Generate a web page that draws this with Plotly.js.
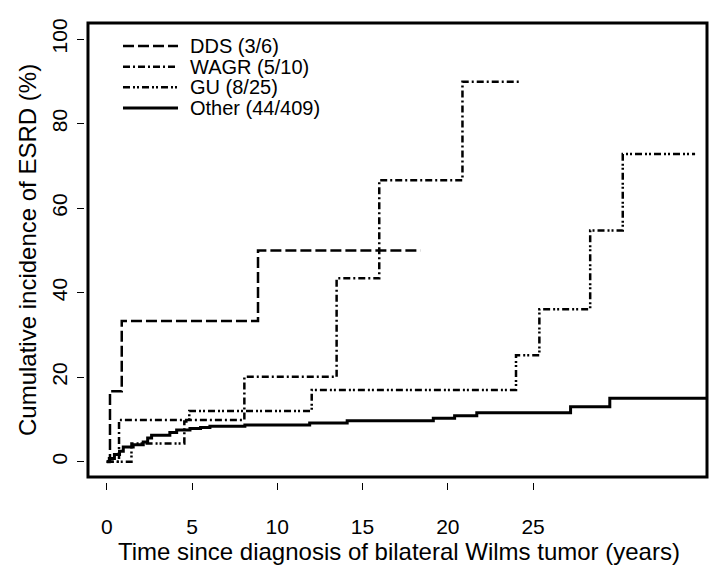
<!DOCTYPE html>
<html>
<head>
<meta charset="utf-8">
<script src="https://cdn.plot.ly/plotly-3.0.1.min.js"></script>
<style>
  body { margin: 0; background: #fff; }
  #chart { width: 722px; height: 580px; }
</style>
</head>
<body>
<div id="chart"></div>
<script>
// step curves (years, % cumulative incidence)
const ddsTime = [0, 0.19, 0.88, 8.87, 18.4];
const ddsInc = [0, 16.7, 33.3, 50, 50];

const wagrTime = [0, 0.72, 8.07, 13.48, 15.98, 20.86, 24.33];
const wagrInc = [0, 9.9, 20.1, 43.4, 66.6, 89.9, 89.9];

const guTime = [0, 1.45, 4.55, 4.84, 12.02, 24.0, 25.37, 28.35, 30.26, 34.5];
const guInc = [0, 4.3, 9.5, 12.0, 17.0, 25.2, 36.1, 54.7, 72.8, 72.8];

const otherTime = [0, 0.15, 0.45, 0.75, 0.97, 1.55, 2.14, 2.4, 2.63, 3.7, 4.1, 4.88, 5.5, 6.05, 8.1, 11.9, 14.1, 19.15, 20.4, 21.7, 27.2, 29.5, 35.2];
const otherInc = [0, 0.8, 1.7, 2.5, 3.5, 4.0, 4.7, 5.6, 6.3, 6.9, 7.5, 7.9, 8.1, 8.4, 8.7, 9.2, 9.7, 10.3, 10.9, 11.6, 13.0, 15.0, 15.0];

const seriesNames = ["DDS (3/6)", "WAGR (5/10)", "GU (8/25)", "Other (44/409)"];
const seriesDash = ["11px,4px", "7px,3px,2px,3px", "7px,3px,2px,2px,2px,3px", "solid"];
const seriesWidth = [2.5, 2.5, 2.5, 3];
const xTicks = [0, 5, 10, 15, 20, 25];
const yTicks = [0, 20, 40, 60, 80, 100];

const font = "Liberation Sans, Arial, sans-serif";

function stepTrace(x, y, i) {
  return {
    x: x, y: y, name: seriesNames[i],
    type: "scatter", mode: "lines",
    line: { shape: "hv", color: "#000", width: seriesWidth[i], dash: seriesDash[i] },
    hoverinfo: "skip"
  };
}

var data = [
  stepTrace(ddsTime, ddsInc, 0),
  stepTrace(wagrTime, wagrInc, 1),
  stepTrace(guTime, guInc, 2),
  stepTrace(otherTime, otherInc, 3)
];

// hand-drawn legend (R style: tight rows, long line keys)
var shapes = [{
  type: "rect", xref: "x domain", yref: "y domain",
  x0: 0, x1: 1, y0: 0, y1: 1,
  line: { color: "#000", width: 3 }
}];
var annotations = [];
var legendRows = [0.9499, 0.9048, 0.8599, 0.8148];
seriesNames.forEach(function (name, i) {
  shapes.push({
    type: "line", xref: "paper", yref: "paper",
    x0: 0.0626, x1: 0.1509, y0: legendRows[i], y1: legendRows[i],
    line: { color: "#000", width: seriesWidth[i], dash: seriesDash[i] }
  });
  annotations.push({
    xref: "paper", yref: "paper", x: 0.1669, y: legendRows[i],
    xanchor: "left", yanchor: "middle", showarrow: false,
    text: name, font: { size: 20 }
  });
});

// axis titles
annotations.push({
  xref: "paper", yref: "paper", x: 0.5056, y: -0.1525,
  xanchor: "center", yanchor: "middle", showarrow: false,
  text: "Time since diagnosis of bilateral Wilms tumor (years)", font: { size: 24 }
});
annotations.push({
  xref: "paper", yref: "paper", x: -0.0915, y: 0.5054,
  xanchor: "center", yanchor: "middle", showarrow: false, textangle: -90,
  text: "Cumulative incidence of ESRD (%)", font: { size: 24 }
});

var layout = {
  width: 722, height: 580,
  margin: { l: 84, r: 15, t: 23, b: 98 },
  paper_bgcolor: "#fff", plot_bgcolor: "#fff",
  font: { family: font, color: "#000", size: 21 },
  showlegend: false,
  xaxis: {
    domain: [0.0064, 1],
    range: [-1.1, 35.2],
    anchor: "free", position: 0,
    tickvals: xTicks, ticktext: xTicks.map(String),
    ticks: "outside", ticklen: 7, tickwidth: 1, tickcolor: "#000",
    ticklabelstandoff: 19,
    showline: false, showgrid: false, zeroline: false,
    tickfont: { size: 21 }
  },
  yaxis: {
    domain: [0.0109, 1],
    range: [-3.6, 103.8],
    anchor: "free", position: 0,
    tickvals: yTicks, ticktext: yTicks.map(String),
    ticks: "outside", ticklen: 7, tickwidth: 1, tickcolor: "#000",
    ticklabelstandoff: 2,
    tickangle: -90,
    showline: false, showgrid: false, zeroline: false,
    tickfont: { size: 21 }
  },
  shapes: shapes,
  annotations: annotations
};

Plotly.newPlot("chart", data, layout, { staticPlot: true });
</script>
</body>
</html>
